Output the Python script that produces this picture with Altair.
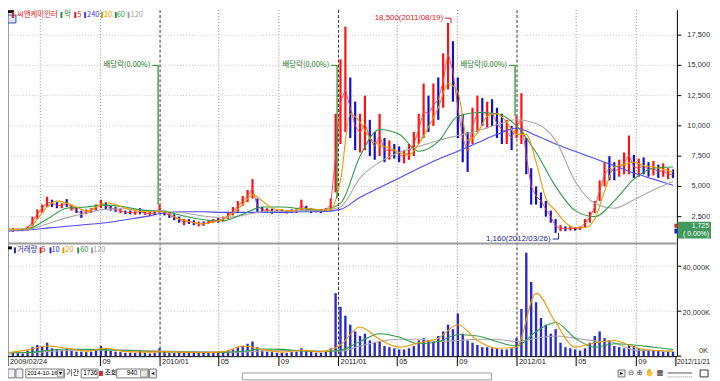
import altair as alt
import pandas as pd

START = "2009-02-24"

# ---------------- price candles (one sample every 10 calendar days) ----------------
price_hi = [
    1650, 1550, 1500, 1500, 1700,
    2500, 3100, 3500, 4150,
    3900, 3700, 3600, 3950, 3500, 3300,
    3000, 3100, 3200, 3500, 3900, 3700,
    3400, 3300, 3200, 3000, 3000, 2950, 3200, 2900, 2900, 2950,
    3500, 3000, 2800, 2700, 2500, 2300, 2300, 2200, 2100, 2100,
    2200, 2300, 2400, 2500, 2900, 3300,
    3800, 4200, 4700, 5600, 4000, 3300,
    3200, 3150, 3100, 3100, 3050, 3100, 3200,
    3900, 3400, 3200, 3100, 3100, 3200, 4000,
    11000, 15500, 18200, 14000,
    12000, 11000, 12500, 10500, 9500, 11000,
    9000, 8800, 8500, 8300, 8000, 8500, 9500,
    11000, 13500, 12500, 13500, 14000, 16000, 18500, 17000,
    14000, 11000, 9500,
    11500, 12500, 12300, 12000, 12200,
    11500, 11000, 10500, 10000,
    10800, 12700,
    9000, 6500, 5000, 4500, 3800, 3000, 2300,
    1800, 1700, 1700, 1650, 1700,
    2300, 2900, 3800, 5500, 7000, 7500,
    7000, 7200, 7800, 9200, 7600, 7300, 7400,
    7000, 7100, 6800, 6900, 6500, 6400,
]
price_lo = [
    1250, 1250, 1300, 1300, 1350,
    1700, 2300, 2800, 3300,
    3300, 3200, 3200, 3300, 3000, 2800,
    2400, 2700, 2800, 3000, 3200, 3100,
    3000, 2900, 2800, 2700, 2700, 2650, 2700, 2650, 2600, 2650,
    2800, 2600, 2400, 2200, 2000, 1800, 1900, 1800, 1700, 1750,
    1900, 2000, 2000, 2100, 2300, 2600,
    2900, 3400, 3700, 4000, 2900, 2800,
    2800, 2750, 2800, 2800, 2750, 2800, 2800,
    3000, 2900, 2800, 2850, 2800, 2900, 3000,
    4500, 8500, 9500, 9000,
    8000, 7800, 8000, 7500, 7200, 7500,
    7000, 7200, 7300, 7000, 6900, 7200, 7500,
    8500, 9000, 9500, 10000, 10500, 11500, 13000, 12000,
    9000, 7000, 6200,
    8500, 9500, 10000, 9800, 10000,
    9000, 8500, 8500, 8000,
    9000, 8500,
    6000, 3500, 3500, 3200, 2500, 2000, 1160,
    1300, 1300, 1350, 1350, 1400,
    1600, 2000, 2800, 3800, 5000, 5500,
    5500, 5800, 6000, 6000, 5700, 5800, 6000,
    5800, 5900, 5700, 5800, 5600, 5700,
]
price_dir = "".join([
    "duduu", "uuuu", "ddudud", "duuuud", "ddudduduud", "udddduddud",
    "uuduuu", "uuuudd", "udududu", "udduduu", "uuud", "duuddu", "dudduuu",
    "uududuud", "ddd", "uudud", "ddud", "uu", "ddddddd", "ududu", "uuuuud",
    "duuudud", "duduud",
])
volume_k = [
    1500, 1800, 1500, 1200, 2500,
    4000, 5000, 4500, 6000,
    3500, 3000, 2500, 3500, 2500, 2000,
    2000, 1800, 2000, 3000, 4500, 3500,
    2500, 2000, 1800, 1500, 1500, 1500, 2500, 1500, 1200, 1500,
    3500, 2000, 1500, 1500, 1800, 2000, 1500, 1500, 1800, 1500,
    1500, 1500, 1800, 2000, 2500, 3000,
    4000, 4500, 5500, 6500, 4000, 2500,
    2000, 1800, 1500, 1500, 1500, 1800, 2000,
    3500, 2500, 2000, 1500, 1500, 2000, 3500,
    28000, 22000, 18000, 14000,
    11000, 9000, 10000, 7000, 6000, 6500,
    4500, 4000, 3500, 3000, 3000, 3500, 4500,
    7000, 8000, 7000, 6500, 9000, 11000, 14000, 12000,
    19000, 10000, 7000,
    6000, 5000, 4000, 4000, 3500,
    3500, 3000, 3000, 3500,
    8000, 21000,
    46000, 33000, 24000, 17000, 14000, 10000, 12000,
    6000, 4000, 3500, 3000, 2500,
    3500, 6000, 9000, 11000, 8000, 7000,
    4500, 4000, 3500, 5000, 4500, 3500, 3000,
    2500, 2500, 2500, 2000, 2000, 2000,
]

# ---------------- moving averages ----------------
ma5 = [  # every 10 days, follows the candles
    1450, 1400, 1400, 1400, 1550,
    2100, 2700, 3200, 3700,
    3600, 3450, 3400, 3600, 3250, 3050,
    2700, 2900, 3000, 3250, 3550, 3400,
    3200, 3100, 3000, 2850, 2850, 2800, 2950, 2750, 2750, 2800,
    3150, 2800, 2600, 2450, 2250, 2050, 2100, 2000, 1900, 1900,
    2050, 2150, 2200, 2300, 2600, 2950,
    3350, 3800, 4200, 4800, 3400, 3050,
    3000, 2950, 2950, 2950, 2900, 2950, 3000,
    3450, 3150, 3000, 2950, 2950, 3050, 3500,
    7500, 12000, 13000, 11500,
    10000, 9400, 10200, 9000, 8300, 9200,
    8000, 8000, 7900, 7600, 7450, 7850, 8500,
    9700, 11200, 11000, 11700, 12200, 13700, 16000, 14500,
    11500, 9000, 7900,
    10000, 11000, 11200, 10900, 11100,
    10200, 9700, 9500, 9000,
    9900, 10600,
    7500, 5000, 4200, 3800, 3100, 2500, 1700,
    1550, 1500, 1520, 1500, 1550,
    1950, 2450, 3300, 4600, 6000, 6500,
    6200, 6500, 6900, 7600, 6600, 6500, 6700,
    6400, 6500, 6200, 6300, 6000, 6000,
]
ma20 = [  # every 20 days
    1450, 1450, 1500, 2300, 3300, 3800, 3600, 3300, 2950, 3300,
    3650, 3500, 3200, 3000, 2900, 2900, 2900, 2500, 2200, 2000,
    1900, 2050, 2300, 2800, 3500, 4300, 3800, 3200, 3050, 3000,
    3150, 3150, 3050, 3100, 5500, 11000, 10300, 9000, 8400, 8200,
    7800, 7600, 8500, 9900, 11500, 13500, 12800, 8800, 9400, 10800,
    11000, 10300, 9300, 9300, 7000, 4000, 3000, 2000, 1600, 1600,
    2300, 4600, 6600, 6800, 7000, 6700, 6600, 6400, 6200,
]
ma60 = [  # every 40 days
    1450, 1500, 2300, 3200, 3300, 3450, 3300, 3000, 2900, 2550,
    2250, 2150, 2700, 3300, 3300, 3150, 3050, 3600, 7500, 9700,
    9300, 7900, 8700, 10800, 11100, 11000, 10000, 7800, 5000, 3000,
    2500, 3800, 5600, 6500, 6600,
]
ma120 = [
    1400, 1450, 1900, 2400, 2800, 3100, 3150, 3050, 2950, 2800,
    2550, 2400, 2600, 2900, 2950, 3000, 3000, 3300, 5700, 7000,
    7800, 8300, 8800, 9200, 9600, 10100, 10500, 10200, 8800, 5400,
    3600, 3200, 3900, 4700, 5400,
]
ma240 = [
    1300, 1400, 1550, 1700, 1850, 2000, 2250, 2500, 2800, 2900,
    2900, 2850, 2850, 2850, 2850, 2900, 2900, 3100, 4100, 4900,
    5700, 6500, 7250, 7900, 8600, 9300, 9800, 9200, 8500, 7900,
    7300, 6700, 6100, 5600, 5100,
]
vma20 = [
    1500, 2800, 4500, 3500, 2200, 3500, 2000, 1800, 2000, 1700,
    1600, 2000, 4500, 3000, 1800, 2500, 2000, 5000, 13000, 7500,
    4000, 6000, 8000, 14000, 7000, 3500, 4000, 28000, 15000, 4000,
    6000, 7000, 4000, 2500, 2200,
]
vma60 = [
    1500, 1600, 2500, 3200, 3000, 2800, 2600, 2200, 1900, 1800,
    1700, 1700, 2200, 3200, 3000, 2300, 2000, 2600, 6500, 10000,
    8500, 5500, 6500, 9500, 9000, 6500, 4500, 11000, 15000, 8000,
    4000, 5500, 5000, 4000, 3000,
]
vma120 = [
    1500, 1500, 2000, 2500, 2700, 2700, 2700, 2500, 2300, 2100,
    1900, 1800, 1900, 2300, 2500, 2600, 2300, 2300, 4500, 6500,
    7500, 7500, 6500, 7000, 7500, 7500, 6500, 8000, 9000, 8000,
    6800, 6000, 2800, 2500, 2300,
]

# ---------------- axes / annotations ----------------
price_ticks = [2500, 5000, 7500, 10000, 12500, 15000, 17500]
volume_ticks = [20000, 40000]
volume_zero = [0]
month_grid = ["2009-05-01", "2009-09-01", "2010-05-01", "2010-09-01",
              "2011-05-01", "2011-09-01", "2012-05-01", "2012-09-01"]
year_grid = ["2010-01-01", "2011-01-01", "2012-01-01"]
x_label_dates = ["2009-02-24", "2009-09-01", "2010-01-01", "2010-05-01", "2010-09-01",
                 "2011-01-01", "2011-05-01", "2011-09-01", "2012-01-01", "2012-05-01",
                 "2012-09-01"]
x_label_texts = ["2009/02/24", "09", "2010/01", "05", "09", "2011/01", "05", "09",
                 "2012/01", "05", "09"]
x_last_date, x_last_text = "2012-11-21", "2012/11/21"
div_dates = ["2009-12-28", "2010-12-29", "2011-12-28"]
div_line_end = [3500, 4000, 10800]
div_label_price = 15000
max_date, max_price, max_label_price = "2011-08-19", 18500, 18900
min_date, min_price, min_label_price = "2012-03-26", 1160, 650

# ---------------- geometry ----------------
W, H = 712, 373
PX = 676
P_TOP, P_BOT = 0, 237
V_TOP, V_BOT = 239, 350
FONT = "Liberation Sans"
KFONT = "Noto Sans CJK KR"

xscale = alt.Scale(domain=[alt.DateTime(year=2009, month=2, date=24),
                           alt.DateTime(year=2012, month=11, date=22)], range=[0, PX])
pscale = alt.Scale(domain=[204, 19567], range=[P_BOT, P_TOP], nice=False, zero=False)
vscale = alt.Scale(domain=[0, 48800], range=[V_BOT, V_TOP], nice=False, zero=False)


def X(field="date"):
    return alt.X(f"{field}:T", scale=xscale, axis=None)


def PY(field):
    return alt.Y(f"{field}:Q", scale=pscale, axis=None)


def VY(field):
    return alt.Y(f"{field}:Q", scale=vscale, axis=None)


one = pd.DataFrame({"k": [0]})


def label(text, x, y, color="#000000", size=7.5, font=FONT, align="left", baseline="middle"):
    return alt.Chart(one).mark_text(text=text, align=align, baseline=baseline, font=font,
                                    fontSize=size, color=color).encode(x=alt.value(x), y=alt.value(y))


def box(x1, y1, x2, y2, fill="#ffffff", stroke=None, sw=1):
    kw = {"fill": fill}
    if stroke:
        kw["stroke"] = stroke
        kw["strokeWidth"] = sw
    return alt.Chart(one).mark_rect(**kw).encode(
        x=alt.value(x1), x2=alt.value(x2), y=alt.value(y1), y2=alt.value(y2))


def seg(x1, y1, x2, y2, color, sw=1, dash=None):
    kw = {"color": color, "strokeWidth": sw}
    if dash:
        kw["strokeDash"] = dash
    return alt.Chart(one).mark_rule(**kw).encode(
        x=alt.value(x1), x2=alt.value(x2), y=alt.value(y1), y2=alt.value(y2))


# ---------------- data frames ----------------
d10 = pd.date_range(START, periods=len(price_hi), freq="10D")
candles = pd.DataFrame({"date": d10, "lo": price_lo, "hi": price_hi,
                        "dir": list(price_dir), "vol": volume_k, "m5": ma5})

ma_df = pd.concat([
    pd.DataFrame({"date": pd.date_range(START, periods=len(v), freq=f), "v": v, "s": n})
    for n, v, f in [("240", ma240, "40D"), ("120", ma120, "40D"),
                    ("60", ma60, "40D"), ("20", ma20, "20D")]
])
vma_df = pd.concat([
    pd.DataFrame({"date": pd.date_range(START, periods=len(v), freq="40D"), "v": v, "s": n})
    for n, v in [("120", vma120), ("60", vma60), ("20", vma20)]
])

layers = []

# gridlines
layers.append(alt.Chart(pd.DataFrame({"v": price_ticks})).mark_rule(
    color="#c4c4c4", strokeDash=[1, 2]).encode(y=PY("v"), x=alt.value(0), x2=alt.value(PX)))
layers.append(alt.Chart(pd.DataFrame({"v": volume_ticks})).mark_rule(
    color="#c4c4c4", strokeDash=[1, 2]).encode(y=VY("v"), x=alt.value(0), x2=alt.value(PX)))
layers.append(alt.Chart(pd.DataFrame({"date": pd.to_datetime(month_grid)})).mark_rule(
    color="#8a8a8a", strokeDash=[1, 2]).encode(x=X(), y=alt.value(0), y2=alt.value(V_BOT)))
layers.append(alt.Chart(pd.DataFrame({"date": pd.to_datetime(year_grid)})).mark_rule(
    color="#333333", strokeDash=[3, 2]).encode(x=X(), y=alt.value(0), y2=alt.value(V_BOT)))

# candles
layers.append(alt.Chart(candles).mark_rule(strokeWidth=2.2).encode(
    x=X(), y=PY("lo"), y2="hi:Q",
    color=alt.Color("dir:N", scale=alt.Scale(domain=["u", "d"], range=["#ff1010", "#1010d0"]),
                    legend=None)))
layers.append(alt.Chart(candles).mark_line(strokeWidth=1, color="#f04040", opacity=0.9).encode(
    x=X(), y=PY("m5")))

# moving averages
layers.append(alt.Chart(ma_df).mark_line(strokeWidth=1.1, interpolate="monotone").encode(
    x=X(), y=PY("v"),
    color=alt.Color("s:N", scale=alt.Scale(domain=["240", "120", "60", "20"],
                                           range=["#4a4aff", "#a8a8a8", "#2f9a48", "#eb9a00"]),
                    legend=None)))

# volume bars + MAs
layers.append(alt.Chart(candles).mark_rule(strokeWidth=2.4, color="#2a2ac8").encode(
    x=X(), y=VY("vol"), y2=alt.value(V_BOT)))
layers.append(alt.Chart(vma_df).mark_line(strokeWidth=1.1, interpolate="monotone").encode(
    x=X(), y=VY("v"),
    color=alt.Color("s:N", scale=alt.Scale(domain=["120", "60", "20"],
                                           range=["#a8a8a8", "#2f9a48", "#eb9a00"]),
                    legend=None)))

# dividend markers
div_df = pd.DataFrame({"date": pd.to_datetime(div_dates), "end": div_line_end,
                       "top": [div_label_price] * len(div_dates)})
div_base = alt.Chart(div_df).transform_calculate(
    hook="timeOffset('day', toDate(datum.date), -12)")
layers.append(div_base.mark_rule(color="#1f8a1f", strokeWidth=1.2).encode(
    x=X(), y=PY("top"), y2="end:Q"))
layers.append(div_base.mark_rule(color="#1f8a1f", strokeWidth=1).encode(
    x=X("hook"), x2="date:T", y=PY("top")))
layers.append(div_base.mark_text(text="배당락(0.00%)", align="right", baseline="middle",
                                 dx=-8, font=KFONT, fontSize=7.5, color="#1f7a1f").encode(
    x=X(), y=PY("top")))

# max / min annotations
ext_df = pd.DataFrame({"date": pd.to_datetime([max_date, min_date]),
                       "p": [max_price, min_price], "lp": [max_label_price, min_label_price],
                       "t": ["%s(%s)" % (format(max_price, ","), max_date.replace("-", "/")),
                             "%s(%s)" % (format(min_price, ","), min_date.replace("-", "/"))],
                       "kind": ["max", "min"]})
ext_base = alt.Chart(ext_df).transform_calculate(
    hook="timeOffset('day', toDate(datum.date), -12)")
ext_col = alt.Color("kind:N", scale=alt.Scale(domain=["max", "min"], range=["#e01818", "#1c2a9c"]),
                    legend=None)
layers.append(ext_base.mark_rule(strokeWidth=1).encode(x=X(), y=PY("lp"), y2="p:Q", color=ext_col))
layers.append(ext_base.mark_rule(strokeWidth=1).encode(x=X("hook"), x2="date:T", y=PY("lp"),
                                                       color=ext_col))
layers.append(ext_base.mark_text(align="right", baseline="middle", dx=-8, font=FONT,
                                 fontSize=8).encode(x=X(), y=PY("lp"), text="t:N", color=ext_col))

# frame lines
layers.append(seg(0.5, 0, 0.5, V_BOT, "#9a9a9a"))
layers.append(seg(0, 236, PX, 236, "#9a9a9a", sw=2))
layers.append(seg(0, V_BOT + 0.5, PX + 1, V_BOT + 0.5, "#000000"))
layers.append(seg(PX + 1, 0, PX + 1, V_BOT, "#000000"))

# right axis ticks and labels
layers.append(alt.Chart(pd.DataFrame({"v": price_ticks})).mark_rule(color="#000").encode(
    y=PY("v"), x=alt.value(PX + 1), x2=alt.value(PX + 5)))
layers.append(alt.Chart(pd.DataFrame({"v": price_ticks})).mark_text(
    align="right", baseline="middle", font=FONT, fontSize=7.5, color="#333333").encode(
    y=PY("v"), x=alt.value(W - 2), text=alt.Text("v:Q", format=",")))
layers.append(alt.Chart(pd.DataFrame({"v": volume_ticks + volume_zero})).mark_rule(color="#000").encode(
    y=VY("v"), x=alt.value(PX + 1), x2=alt.value(PX + 5)))
layers.append(alt.Chart(pd.DataFrame({"v": volume_ticks})).transform_calculate(
    t="format(datum.v, ',') + 'K'").mark_text(
    align="right", baseline="middle", dy=2, font=FONT, fontSize=7.5, color="#333333").encode(
    y=VY("v"), x=alt.value(W - 2), text="t:N"))
layers.append(alt.Chart(pd.DataFrame({"v": volume_zero})).transform_calculate(
    t="format(datum.v, ',') + 'K'").mark_text(
    align="right", baseline="bottom", dy=-1, font=FONT, fontSize=7.5, color="#333333").encode(
    y=VY("v"), x=alt.value(W - 4), text="t:N"))

# bottom axis ticks and labels
xl = pd.DataFrame({"date": pd.to_datetime(x_label_dates + [x_last_date]),
                   "t": x_label_texts + [x_last_text]})
layers.append(alt.Chart(xl).mark_rule(color="#000").encode(
    x=X(), y=alt.value(V_BOT), y2=alt.value(V_BOT + 10)))
layers.append(alt.Chart(xl.iloc[:-1]).mark_text(align="left", baseline="top", dx=2, font=FONT,
                                                fontSize=7.5, color="#222222").encode(
    x=X(), y=alt.value(V_BOT + 2), text="t:N"))
layers.append(alt.Chart(xl.iloc[-1:]).mark_text(align="left", baseline="top", dx=1, font=FONT,
                                                fontSize=6.8, color="#222222").encode(
    x=X(), y=alt.value(V_BOT + 2.5), text="t:N"))

# current price box
layers.append(box(PX + 1, 214, W - 1, 231, fill="#3f9a5c"))
layers.append(box(PX - 2, 216, PX + 1, 220, fill="#e02020"))
layers.append(box(PX - 2, 221, PX + 1, 226, fill="#2020c0"))
layers.append(label("1,725", W - 3, 218.5, color="#ffffff", size=7, align="right"))
layers.append(label("( 0.00%)", W - 3, 226.5, color="#ffffff", size=7, align="right"))

# price legend
layers.append(box(0, 0, 6, 3, fill="#111111"))
layers.append(box(0, 5, 8, 13, fill="#dfe8f8", stroke="#2b4fa8"))
for sx, tx, t, c in [(4, 9, "씨앤케이인터", "#e01818"), (53, 57, "막", "#2f8a2f"),
                     (67, 70, "5", "#e01818"), (77, 80, "240", "#3a3aff"),
                     (94, 97, "20", "#e89a00"), (108, 110, "60", "#2f9a48"),
                     (121, 124, "120", "#a0a0a0")]:
    layers.append(box(sx, 2, sx + 2, 8, fill=c))
    layers.append(label(t, tx, 5, color=c, size=7.5, font=KFONT))

# volume legend
layers.append(box(0, 239, 4, 242, fill="#111111"))
for sx, tx, t, c in [(6, 9, "거래량", "#1c2a9c"), (32, 34, "5", "#e01818"),
                     (42, 44, "10", "#2a2ae0"), (55, 58, "20", "#e89a00"),
                     (70, 73, "60", "#2f9a48"), (84, 86, "120", "#a0a0a0")]:
    layers.append(box(sx, 240, sx + 2, 246, fill=c))
    layers.append(label(t, tx, 243, color=c, size=7.5, font=KFONT))

# bottom toolbar
TY = 363
layers.append(box(0, TY, 7, TY + 9, fill="#eef0f4", stroke="#7a7a7a"))
layers.append(box(8, TY, 15, TY + 9, fill="#eef0f4", stroke="#7a7a7a"))
layers.append(box(18, TY, 57, TY + 9, fill="#ffffff", stroke="#7a7a7a"))
layers.append(label("2014-10-16", 19.5, TY + 4.5, size=6))
layers.append(box(50, TY + 1, 56, TY + 8, fill="#e8e8e8", stroke="#9a9a9a"))
layers.append(label("▾", 53, TY + 4.5, size=6, font="DejaVu Sans", align="center"))
layers.append(label("기간", 59, TY + 4.5, size=7, font=KFONT))
layers.append(box(74, TY, 91, TY + 9, fill="#ffffff", stroke="#7a7a7a"))
layers.append(label("1736", 76, TY + 4.5, size=6.5))
layers.append(box(92, TY + 2, 96, TY + 7, fill="#c83030"))
layers.append(label("조회", 97.5, TY + 4.5, size=7, font=KFONT))
layers.append(box(110, TY, 142, TY + 9, fill="#ffffff", stroke="#7a7a7a"))
layers.append(label("940", 120, TY + 4.5, size=6.5))
layers.append(box(134, TY + 1, 141, TY + 8, fill="#e8e8e8", stroke="#9a9a9a"))
layers.append(box(143, TY, 150, TY + 9, fill="#eeeeee", stroke="#7a7a7a"))
layers.append(label("◂", 146.5, TY + 4.5, size=6, font="DejaVu Sans", align="center"))
layers.append(box(237, TY + 4, 489, TY + 11, fill="#ffffff", stroke="#9a9a9a"))
layers.append(box(617, TY + 1, 624, TY + 8, fill="#eeeeee", stroke="#7a7a7a"))
layers.append(label("▸", 620.5, TY + 4.5, size=6, font="DejaVu Sans", align="center"))
layers.append(label("⊖ ⊕ ✋ ▦", 627, TY + 4.5, size=7.5, font="DejaVu Sans", color="#333333"))
layers.append(seg(667, TY + 4, 692, TY + 4, "#555555"))
layers.append(seg(667, TY + 8, 692, TY + 8, "#888888", dash=[1, 1]))
layers.append(box(700, TY + 1, 708, TY + 8, fill="#ffffff", stroke="#333333"))

chart = alt.layer(*layers).resolve_scale(
    y="independent", color="independent"
).properties(
    width=W, height=H, padding=0, autosize=alt.AutoSizeParams(type="none"),
    background="#ffffff"
).configure_view(stroke=None)

chart.save("out.html", embed_options={"renderer": "svg", "actions": False})
